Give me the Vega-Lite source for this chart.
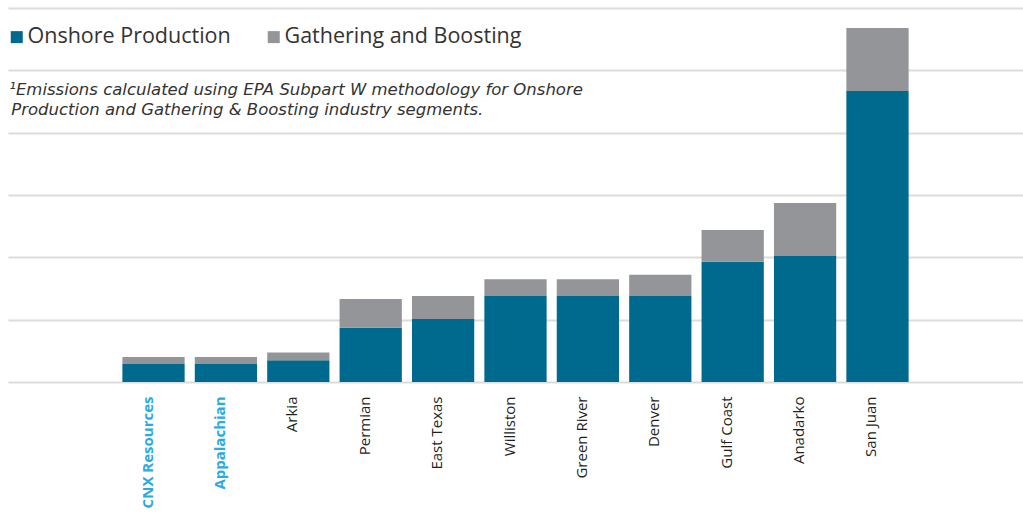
{
  "$schema": "https://vega.github.io/schema/vega-lite/v6.json",
  "width": 1015,
  "height": 374,
  "padding": {"left": 6, "top": 8, "right": 0, "bottom": 0},
  "autosize": {"type": "pad"},
  "background": "white",
  "config": {"view": {"stroke": null}, "font": "Open Sans"},
  "data": {
    "values": [
      {"region": "CNX Resources", "segment": "Onshore Production", "value": 0.29},
      {"region": "CNX Resources", "segment": "Gathering and Boosting", "value": 0.11},
      {"region": "Appalachian", "segment": "Onshore Production", "value": 0.29},
      {"region": "Appalachian", "segment": "Gathering and Boosting", "value": 0.11},
      {"region": "Arkia", "segment": "Onshore Production", "value": 0.35},
      {"region": "Arkia", "segment": "Gathering and Boosting", "value": 0.125},
      {"region": "Permian", "segment": "Onshore Production", "value": 0.87},
      {"region": "Permian", "segment": "Gathering and Boosting", "value": 0.46},
      {"region": "East Texas", "segment": "Onshore Production", "value": 1.01},
      {"region": "East Texas", "segment": "Gathering and Boosting", "value": 0.37},
      {"region": "Williston", "segment": "Onshore Production", "value": 1.38},
      {"region": "Williston", "segment": "Gathering and Boosting", "value": 0.27},
      {"region": "Green River", "segment": "Onshore Production", "value": 1.38},
      {"region": "Green River", "segment": "Gathering and Boosting", "value": 0.27},
      {"region": "Denver", "segment": "Onshore Production", "value": 1.38},
      {"region": "Denver", "segment": "Gathering and Boosting", "value": 0.34},
      {"region": "Gulf Coast", "segment": "Onshore Production", "value": 1.93},
      {"region": "Gulf Coast", "segment": "Gathering and Boosting", "value": 0.51},
      {"region": "Anadarko", "segment": "Onshore Production", "value": 2.02},
      {"region": "Anadarko", "segment": "Gathering and Boosting", "value": 0.85},
      {"region": "San Juan", "segment": "Onshore Production", "value": 4.67},
      {"region": "San Juan", "segment": "Gathering and Boosting", "value": 1.01}
    ]
  },
  "mark": {"type": "bar"},
  "encoding": {
    "x": {
      "field": "region",
      "type": "nominal",
      "scale": {
        "domain": [" ", "CNX Resources", "Appalachian", "Arkia", "Permian", "East Texas", "Williston", "Green River", "Denver", "Gulf Coast", "Anadarko", "San Juan", "  "],
        "paddingInner": 0.14,
        "paddingOuter": 0.58,
        "round": false
      },
      "axis": {
        "title": null,
        "labelAngle": -90,
        "domain": false,
        "ticks": false,
        "labelPadding": 14,
        "labelOffset": -6,
        "labelFontSize": 15,
        "labelColor": {"condition": {"test": "datum.value == 'CNX Resources' || datum.value == 'Appalachian'", "value": "#29abe2"}, "value": "#231f20"},
        "labelFontWeight": {"condition": {"test": "datum.value == 'CNX Resources' || datum.value == 'Appalachian'", "value": "bold"}, "value": "normal"}
      }
    },
    "y": {
      "field": "value",
      "type": "quantitative",
      "stack": "zero",
      "scale": {"domain": [0, 6], "nice": false},
      "axis": {
        "title": null,
        "labels": false,
        "ticks": false,
        "domain": false,
        "values": [0, 1, 2, 3, 4, 5, 6],
        "gridColor": "#dcdcdc",
        "gridWidth": 2
      }
    },
    "color": {
      "field": "segment",
      "type": "nominal",
      "scale": {"domain": ["Onshore Production", "Gathering and Boosting"], "range": ["#006a8e", "#939598"]},
      "legend": {
        "orient": "none",
        "legendX": -2,
        "legendY": 18,
        "direction": "horizontal",
        "title": ["\u200b\u2009¹Emissions calculated using EPA Subpart W methodology for Onshore", "\u200b\u00a0Production and Gathering & Boosting industry segments."],
        "titleOrient": "bottom",
        "titleFont": "DejaVu Sans",
        "titleFontSize": 16.5,
        "titleFontStyle": "italic",
        "titleFontWeight": "normal",
        "titleColor": "#333333",
        "titleLineHeight": 20,
        "titlePadding": 34,
        "titleAnchor": "start",
        "titleLimit": 1000,
        "labelFontSize": 21.5,
        "labelColor": "#333333",
        "labelLimit": 400,
        "symbolType": "square",
        "symbolSize": 144,
        "symbolStrokeWidth": 0,
        "symbolOpacity": 1,
        "labelOffset": 0,
        "columnPadding": 32,
        "padding": 0
      }
    },
    "order": {"field": "segment", "sort": "descending"}
  }
}
